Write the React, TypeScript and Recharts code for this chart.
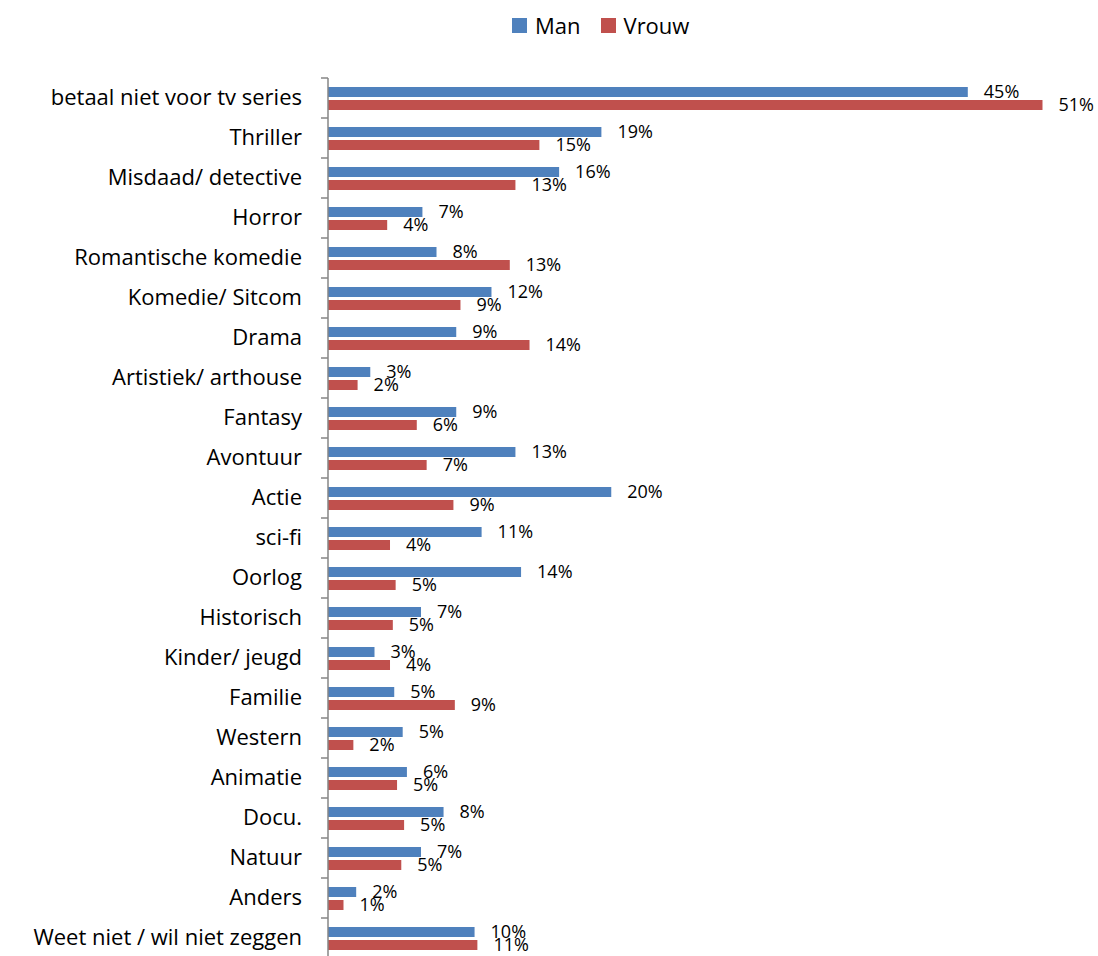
import { BarChart, Bar, XAxis, YAxis, LabelList } from 'recharts';

const categories = [
  'betaal niet voor tv series',
  'Thriller',
  'Misdaad/ detective',
  'Horror',
  'Romantische komedie',
  'Komedie/ Sitcom',
  'Drama',
  'Artistiek/ arthouse',
  'Fantasy',
  'Avontuur',
  'Actie',
  'sci-fi',
  'Oorlog',
  'Historisch',
  'Kinder/ jeugd',
  'Familie',
  'Western',
  'Animatie',
  'Docu.',
  'Natuur',
  'Anders',
  'Weet niet / wil niet zeggen',
];

const manValues = [
  45.4, 19.4, 16.4, 6.7, 7.7, 11.6, 9.1, 3.0, 9.1, 13.3, 20.1,
  10.9, 13.7, 6.6, 3.3, 4.7, 5.3, 5.6, 8.2, 6.6, 2.0, 10.4,
];

const vrouwValues = [
  50.7, 15.0, 13.3, 4.2, 12.9, 9.4, 14.3, 2.1, 6.3, 7.0, 8.9,
  4.4, 4.8, 4.6, 4.4, 9.0, 1.8, 4.9, 5.4, 5.2, 1.1, 10.6,
];

const seriesNames = ['Man', 'Vrouw'];
const seriesColors = ['#4F81BD', '#C0504D'];

const chartData = categories.map((name, i) => ({
  name,
  man: manValues[i],
  vrouw: vrouwValues[i],
}));

const FONT = '"Open Sans", Lato, sans-serif';

// category label plus a tick mark on the band boundary (like Excel)
function CategoryTick(props: any) {
  const { x, y, payload } = props;
  const half = payload?.offset ?? 20;
  return (
    <g>
      <line x1={x - 7} x2={x} y1={y - half} y2={y - half} stroke="#868686" strokeWidth={1.5} />
      <text
        x={x - 26}
        y={y}
        dy={7}
        textAnchor="end"
        fontSize={22}
        fontFamily={FONT}
        fill="#000"
      >
        {payload.value}
      </text>
    </g>
  );
}

const pct = (v: any) => `${Math.round(Number(v))}%`;

export default function App() {
  return (
    <div style={{ position: 'absolute', left: 0, top: 0, width: 1098, height: 956, overflow: 'hidden', background: '#fff' }}>
      {/* legend */}
      <div
        style={{
          position: 'absolute',
          top: 10,
          left: 512,
          display: 'flex',
          alignItems: 'center',
          fontFamily: FONT,
          fontSize: 22,
          color: '#000',
        }}
      >
        {seriesNames.map((s, i) => (
          <div key={s} style={{ display: 'flex', alignItems: 'center', marginRight: 20 }}>
            <span style={{ display: 'inline-block', width: 15, height: 15, background: seriesColors[i], marginRight: 8 }} />
            <span>{s}</span>
          </div>
        ))}
      </div>

      <BarChart
        width={1098}
        height={960}
        data={chartData}
        layout="vertical"
        margin={{ top: 78, right: 9, bottom: 2, left: 0 }}
        barCategoryGap="21%"
        barGap={3}
      >
        <XAxis type="number" domain={[0, 54]} hide />
        <YAxis
          type="category"
          dataKey="name"
          width={328}
          axisLine={{ stroke: '#868686', strokeWidth: 1.5 }}
          tickLine={false}
          tickSize={0}
          tickMargin={0}
          interval={0}
          tick={<CategoryTick />}
        />
        <Bar dataKey="man" name={seriesNames[0]} fill={seriesColors[0]} barSize={10} isAnimationActive={false}>
          <LabelList dataKey="man" position="right" offset={16} formatter={pct} fontSize={18} fontFamily={FONT} fill="#000" />
        </Bar>
        <Bar dataKey="vrouw" name={seriesNames[1]} fill={seriesColors[1]} barSize={10} isAnimationActive={false}>
          <LabelList dataKey="vrouw" position="right" offset={16} formatter={pct} fontSize={18} fontFamily={FONT} fill="#000" />
        </Bar>
      </BarChart>
    </div>
  );
}
